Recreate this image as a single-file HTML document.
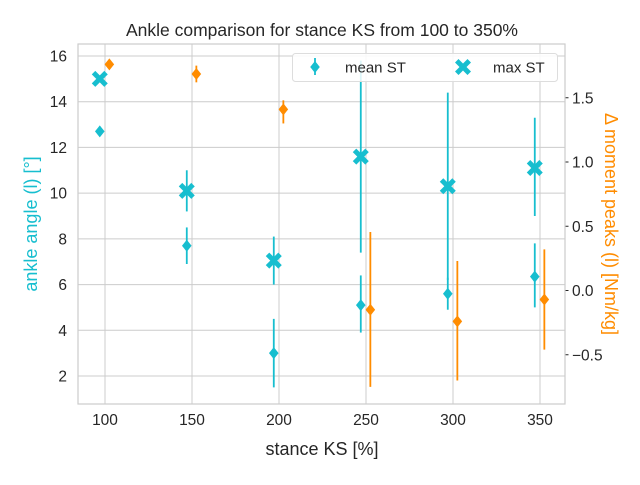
<!DOCTYPE html>
<html><head><meta charset="utf-8"><style>
body{margin:0;background:#fff}
svg{font-family:"Liberation Sans","DejaVu Sans",sans-serif}
</style></head><body>
<svg id="c" width="640" height="480" xmlns="http://www.w3.org/2000/svg" style="position:absolute;left:0;top:0"></svg>
<script>
const categories=[100,150,200,250,300,350];
const meanST=[12.7,7.7,3.0,5.1,5.6,6.35];
const meanLo=[12.7,6.9,1.5,3.9,4.9,5.0];
const meanHi=[12.7,8.5,4.5,6.4,6.3,7.8];
const maxST=[15.0,10.1,7.05,11.6,10.3,11.1];
const maxLo=[15.0,9.2,6.0,7.4,6.2,9.0];
const maxHi=[15.0,11.0,8.1,15.8,14.4,13.3];
const moment=[1.76,1.685,1.41,-0.15,-0.24,-0.07];
const momLo=[1.76,1.62,1.30,-0.75,-0.70,-0.46];
const momHi=[1.76,1.75,1.48,0.455,0.23,0.32];
const xTicks=[100,150,200,250,300,350];
const yTicks=[2,4,6,8,10,12,14,16];
const y2Ticks=[-0.5,0.0,0.5,1.0,1.5];
const y2Labels=["−0.5","0.0","0.5","1.0","1.5"];

const L=78,R=565,T=44,B=404;
const X=v=>105+(v-100)*1.74;
const Y=v=>376-(v-2)*22.857;
const Y2=v=>290.5-v*128.5;
const svg=document.getElementById('c');
const NS='http://www.w3.org/2000/svg';
function mk(tag,attrs,parent){const e=document.createElementNS(NS,tag);for(const k in attrs)e.setAttribute(k,attrs[k]);(parent||svg).appendChild(e);return e;}
const cy='#17becf',or='#ff8c00';
xTicks.forEach(t=>{const l=mk('line',{x1:X(t),x2:X(t),y1:T,y2:B,stroke:'#cccccc'});

const tx=mk('text',{x:X(t),y:425,'font-size':15.5,'text-anchor':'middle',fill:'#262626'});tx.textContent=t;
});
yTicks.forEach(t=>{const l=mk('line',{x1:L,x2:R,y1:Y(t),y2:Y(t),stroke:'#cccccc'});

const tx=mk('text',{x:67,y:Y(t)+5.5,'font-size':15.5,'text-anchor':'end',fill:'#262626'});tx.textContent=t;
});
y2Ticks.forEach((t,i)=>{const l=mk('line',{x1:R,x2:R+3.5,y1:Y2(t),y2:Y2(t),stroke:'#262626'});

const tx=mk('text',{x:572,y:Y2(t)+5.5,'font-size':15.5,fill:'#262626'});tx.textContent=y2Labels[i];
});
const fr=mk('rect',{x:L,y:T,width:R-L,height:B-T,fill:'none',stroke:'#cccccc','stroke-width':1.2});

function diamond(cx,cy_,c,s){return mk('path',{d:`M${cx} ${cy_-s}L${cx+s*0.8} ${cy_}L${cx} ${cy_+s}L${cx-s*0.8} ${cy_}Z`,fill:c});}
function cross(cx,cy_,c){const g=mk('g',{transform:`translate(${cx},${cy_})`});
mk('path',{d:'M-4.5 -8L0 -3.5L4.5 -8L8 -4.5L3.5 0L8 4.5L4.5 8L0 3.5L-4.5 8L-8 4.5L-3.5 0L-8 -4.5Z',fill:c},g);return g;}
categories.forEach((c,i)=>{
 let x=X(c-3);
 let e=mk('line',{x1:x,x2:x,y1:Y(maxLo[i]),y2:Y(maxHi[i]),stroke:cy,'stroke-width':1.8});
 
 e=mk('line',{x1:x,x2:x,y1:Y(meanLo[i]),y2:Y(meanHi[i]),stroke:cy,'stroke-width':1.8});
 
 let m=diamond(x,Y(meanST[i]),cy,6);
 
 m=cross(x,Y(maxST[i]),cy);
 
 let x2=X(c+2.5);
 e=mk('line',{x1:x2,x2:x2,y1:Y2(momLo[i]),y2:Y2(momHi[i]),stroke:or,'stroke-width':1.8});
 
 m=diamond(x2,Y2(moment[i]),or,6);
 
});
const lg=mk('g',{});
mk('rect',{x:292.5,y:53.5,width:265,height:28,rx:3,fill:'#fff','fill-opacity':0.85,stroke:'#dddddd'},lg);
mk('line',{x1:315,x2:315,y1:58,y2:75,stroke:cy,'stroke-width':1.8},lg);
const d1=diamond(315,67,cy,6);lg.appendChild(d1);
const t1=mk('text',{x:345,y:72.5,'font-size':15,fill:'#262626'},lg);t1.textContent='mean ST';

const c2=cross(463,67,cy);lg.appendChild(c2);
const t2=mk('text',{x:493,y:72.5,'font-size':15,fill:'#262626'},lg);t2.textContent='max ST';

</script>
<div style="position:absolute;left:0;top:0;width:640px;height:480px;pointer-events:none">
<svg width="640" height="480" xmlns="http://www.w3.org/2000/svg" style="font-family:'Liberation Sans',sans-serif">
<text x="322" y="36" font-size="17.5" text-anchor="middle" fill="#262626">Ankle comparison for stance KS from 100 to 350%</text>
<text x="322" y="455" font-size="18" text-anchor="middle" fill="#262626">stance KS [%]</text>
<text transform="translate(37,224) rotate(-90)" font-size="18" text-anchor="middle" fill="#17becf">ankle angle (l) [°]</text>
<text transform="translate(605,224) rotate(90)" font-size="18" text-anchor="middle" fill="#ff8c00">Δ moment peaks (l) [Nm/kg]</text>
</svg></div>
</body></html>
